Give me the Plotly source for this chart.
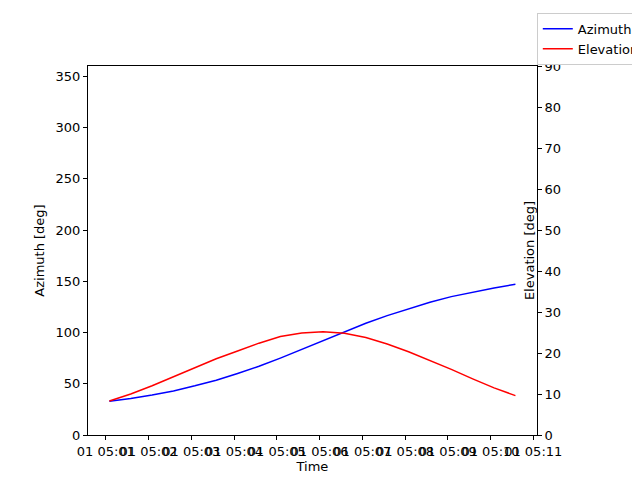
import plotly.graph_objects as go
import pandas as pd

times = pd.date_range("2000-01-01 05:01:05", periods=20, freq="30s")
azimuth = [33, 35.5, 39, 43, 48, 53.5, 60, 67, 75, 83.5, 92, 100.5, 109, 116.5, 123, 129.5, 135, 139.5, 143.5, 147]
elevation = [8.3, 10, 12, 14.2, 16.5, 18.6, 20.5, 22.4, 24, 24.9, 25.2, 24.8, 23.8, 22.2, 20.3, 18.2, 16, 13.7, 11.5, 9.6]
ticks = pd.date_range("2000-01-01 05:01:00", periods=11, freq="1min")

fig = go.Figure()
fig.add_trace(go.Scatter(x=times, y=azimuth, mode="lines", name="Azimuth", line=dict(color="blue", width=1.5)))
fig.add_trace(go.Scatter(x=times, y=elevation, mode="lines", name="Elevation", line=dict(color="red", width=1.5), yaxis="y2"))

axis_common = dict(showgrid=False, zeroline=False, showline=True, linecolor="black", mirror=False,
                   ticks="outside", ticklen=4, tickcolor="black", automargin=False,
                   tickfont=dict(size=13), title_font=dict(size=13))
fig.update_layout(
    width=640, height=480, plot_bgcolor="white", paper_bgcolor="white",
    font=dict(family="DejaVu Sans", size=13, color="black"),
    margin=dict(l=80, r=64, t=58, b=53),
    xaxis=dict(axis_common, title=dict(text="Time", standoff=2), tickvals=list(ticks), tickformat="%d %H:%M",
               tickangle=0,
               range=[pd.Timestamp("2000-01-01 05:00:35"), pd.Timestamp("2000-01-01 05:11:05")], mirror=True),
    yaxis=dict(axis_common, title=dict(text="Azimuth [deg]", standoff=8), range=[0, 360], dtick=50),
    yaxis2=dict(axis_common, title=dict(text="Elevation [deg]", standoff=8), range=[0, 90], dtick=10, overlaying="y", side="right"),
    legend=dict(x=0.995, y=0.99, xref="container", yref="container", xanchor="right", yanchor="top",
                bordercolor="#cccccc", borderwidth=1, bgcolor="white", font=dict(size=13)),
    showlegend=True,
)
fig.write_html("out.html")
